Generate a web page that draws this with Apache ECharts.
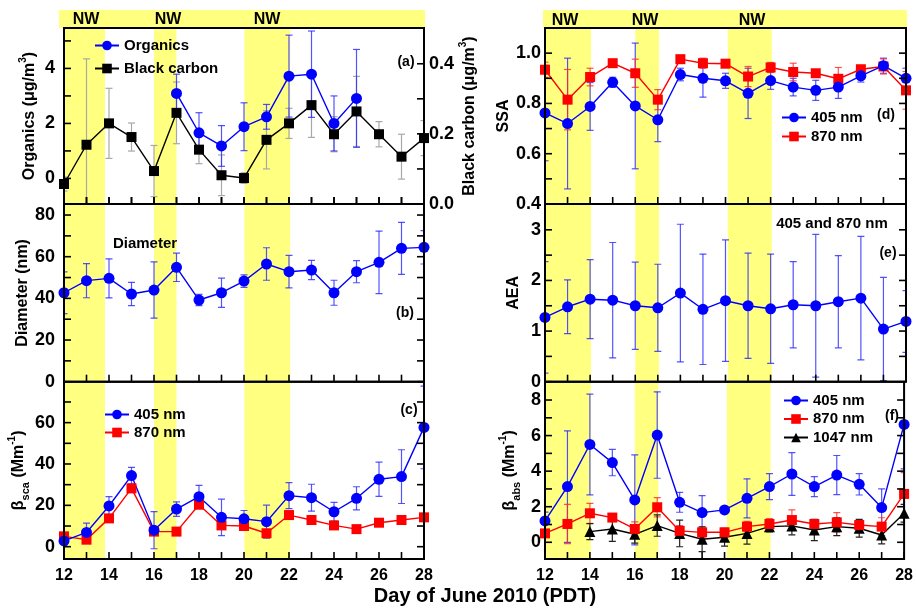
<!DOCTYPE html>
<html>
<head>
<meta charset="utf-8">
<script src="https://cdn.jsdelivr.net/npm/echarts@6/dist/echarts.min.js"></script>
<style>html,body{margin:0;padding:0;background:#fff;}#c{width:916px;height:615px;}</style>
</head>
<body>
<div id="c"></div>
<script>
// ---------- data ----------
const days = [12,13,14,15,16,17,18,19,20,21,22,23,24,25,26,27,28];
const dayTickLabels = [12,14,16,18,20,22,24,26,28];

const leftBands = [[12,13.82],[16,17],[20.02,22.05]];
const rightBands = [[12,14.04],[16,17.05],[20.1,22.05]];

// y tick positions / labels per panel
const ticksA = [0,1,2,3,4,5],            labelsA = [0,2,4];
const ticksBC = [0,0.1,0.2,0.3,0.4],     labelsBC = [0,0.2,0.4];
const ticksB = [0,10,20,30,40,50,60,70,80], labelsB = [0,20,40,60,80];
const ticksC = [0,10,20,30,40,50,60,70], labelsC = [0,20,40,60];
const ticksD = [0.4,0.5,0.6,0.7,0.8,0.9,1.0], labelsD = [0.4,0.6,0.8,1.0];
const ticksE = [0,0.5,1,1.5,2,2.5,3],    labelsE = [0,1,2,3];
const ticksF = [0,1,2,3,4,5,6,7,8],      labelsF = [0,2,4,6,8];

// (a)
const organics    = [null,null,null,null,null,3.09,1.66,1.18,1.88,2.24,3.72,3.79,2.00,2.91,null,null,null];
const organicsErr = [null,null,null,null,null,0.70,0.73,0.74,0.87,0.45,1.49,1.57,1.00,1.78,null,null,null];
const blackCarbon = [0.057,0.169,0.230,0.191,0.094,0.260,0.155,0.082,0.074,0.183,0.230,0.282,0.199,0.264,0.199,0.135,0.188];
const blackCarbonErr = [0.02,0.245,0.10,0.04,0.073,0.088,0.04,0.058,0.015,0.083,0.043,0.092,0.05,0.10,0.036,0.064,0.05];
// (b)
const diameter    = [42.7,48.5,49.6,42.1,44.0,54.9,39.2,42.7,48.3,56.5,52.8,53.6,42.7,52.8,57.3,64.0,64.5];
const diameterErr = [10,8.2,9.4,5.6,13.5,6.8,2.7,7,3,7.8,7.8,4.6,6,5.3,15,12.5,8];
// (c)
const bsca405    = [2.8,6.9,19.7,34.4,8.0,18.2,24.2,14.2,13.5,12.1,24.7,23.7,16.9,23.4,32.6,33.9,57.7];
const bsca405Err = [2,4.5,4.5,4,9,3.5,5.5,8.8,4,8,6.3,6.5,4.5,5.6,8.3,13,20];
const bsca870    = [5.0,3.4,13.7,28.2,7.3,7.3,20.3,10.3,10.0,6.5,15.3,12.9,10.3,8.5,11.6,12.9,14.2];
// (d)
const ssa405    = [0.762,0.72,0.788,0.884,0.79,0.735,0.915,0.90,0.89,0.84,0.891,0.865,0.852,0.865,0.91,0.95,0.90];
const ssa405Err = [0.19,0.26,0.095,0.02,0.25,0.087,0.025,0.075,0.03,0.10,0.035,0.035,0.04,0.045,0.025,0.03,0.04];
const ssa870    = [0.934,0.815,0.905,0.96,0.92,0.815,0.976,0.96,0.958,0.907,0.943,0.925,0.92,0.898,0.936,0.947,0.852];
const ssa870Err = [0.03,0.12,0.035,0.01,0.056,0.04,0.01,0.02,0.01,0.04,0.02,0.035,0.01,0.045,0.01,0.03,0.075];
// (e)
const aea    = [1.27,1.48,1.63,1.61,1.50,1.46,1.75,1.43,1.60,1.50,1.44,1.52,1.50,1.58,1.65,1.04,1.19];
const aeaErr = [1.10,0.53,0.78,1.14,0.86,0.86,1.36,1.09,1.20,1.04,1.08,0.85,1.41,0.91,1.22,1.02,0.61];
// (f)
const babs405    = [1.2,3.13,5.5,4.48,2.38,6.03,2.25,1.67,1.82,2.47,3.13,3.84,3.13,3.78,3.26,1.95,6.63];
const babs405Err = [0.5,3.14,2.83,0.74,2.53,2.43,0.56,0.95,0.1,1.1,0.73,1.2,0.56,1.1,0.6,1.05,2.5];
const babs870    = [0.5,1.03,1.63,1.39,0.75,1.97,0.64,0.56,0.56,0.88,1.03,1.25,1.03,1.12,0.97,0.88,2.72];
const babs870Err = [0.2,1.1,0.56,0.2,0.4,0.54,0.3,0.3,0.15,0.3,0.3,0.57,0.25,0.55,0.25,0.5,1.2];
const babs1047    = [null,null,0.6,0.75,0.45,0.94,0.5,0.17,0.28,0.5,0.88,0.92,0.69,0.88,0.79,0.41,1.63];
const babs1047Err = [null,null,0.45,0.7,0.5,0.6,0.75,0.7,0.5,0.6,0.3,0.5,0.6,0.5,0.5,0.5,0.5];

// ---------- helpers ----------
const FONT = "'Liberation Sans', Arial, Helvetica, sans-serif";
const YELLOW = '#ffff80';
const BLUE = '#0000ff', RED = '#ff0000', BLACK = '#000000';

function pairs(vals){ return days.map((d,i)=> vals[i]==null?null:[d,vals[i]]).filter(Boolean); }
function errData(vals, errs){
  return days.map((d,i)=> (vals[i]==null||errs[i]==null)?null:[d, vals[i]-errs[i], vals[i]+errs[i]]).filter(Boolean);
}
function lineSeries(name, vals, xi, yi, color, symbol, size, bands){
  const s = {
    type:'line', name, data:pairs(vals), xAxisIndex:xi, yAxisIndex:yi,
    symbol, symbolSize:size, z:3,
    lineStyle:{color, width:1.4}, itemStyle:{color, borderWidth:0},
    emphasis:{disabled:true}, animation:false
  };
  if (bands) {
    s.markArea = {silent:true, itemStyle:{color:YELLOW, opacity:1},
      data: bands.map(b=>[{xAxis:b[0]},{xAxis:b[1]}])};
  }
  return s;
}
function errSeries(vals, errs, xi, yi, color){
  return {
    type:'custom', xAxisIndex:xi, yAxisIndex:yi, data:errData(vals,errs), clip:true, z:2,
    silent:true, animation:false,
    encode:{x:0, y:[1,2]},
    renderItem:function(params, api){
      const x = api.value(0), lo = api.value(1), hi = api.value(2);
      const p1 = api.coord([x,hi]), p2 = api.coord([x,lo]);
      const w = 3.5;
      const st = {stroke:color, lineWidth:1.2};
      return {type:'group', children:[
        {type:'line', shape:{x1:p1[0],y1:p1[1],x2:p2[0],y2:p2[1]}, style:st},
        {type:'line', shape:{x1:p1[0]-w,y1:p1[1],x2:p1[0]+w,y2:p1[1]}, style:st},
        {type:'line', shape:{x1:p2[0]-w,y1:p2[1],x2:p2[0]+w,y2:p2[1]}, style:st}
      ]};
    }
  };
}
function xAx(gi, showLabels){
  return {
    type:'value', gridIndex:gi, min:12, max:28,
    axisLine:{show:false, onZero:false}, splitLine:{show:false}, axisTick:{show:false},
    axisLabel:{show:showLabels, customValues:dayTickLabels, margin:9, fontSize:16, fontWeight:'bold', color:'#000', fontFamily:FONT}
  };
}
const nameRich = {
  g:{fontSize:16, fontWeight:'bold', fontFamily:FONT, color:'#000', lineHeight:24, verticalAlign:'middle'},
  s:{fontSize:11, fontWeight:'bold', fontFamily:FONT, color:'#000', lineHeight:12, verticalAlign:'bottom'},
  p:{fontSize:10, fontWeight:'bold', fontFamily:FONT, color:'#000', lineHeight:12, verticalAlign:'top'}
};
function yAx(gi, pos, min, max, labels, decimals, name, nameGap, labelMargin){
  const a = {
    type:'value', gridIndex:gi, position:pos, min, max,
    axisLine:{show:false, onZero:false}, splitLine:{show:false}, axisTick:{show:false},
    axisLabel:{show:!!labels, customValues:labels||[], margin:labelMargin||9,
      formatter:(v)=> decimals ? v.toFixed(decimals) : String(Math.round(v)),
      fontSize:18, fontWeight:'bold', color:'#000', fontFamily:FONT}
  };
  if (name) {
    a.name = name; a.nameLocation = 'middle'; a.nameGap = nameGap; a.nameRotate = 90;
    a.nameTextStyle = {rich:nameRich, fontSize:16, fontWeight:'bold', fontFamily:FONT, color:'#000'};
  }
  return a;
}

const grids = [
  {left:64,  top:28,    width:360, height:176},
  {left:64,  top:204,   width:360, height:177.7},
  {left:64,  top:381.7, width:360, height:177.3},
  {left:545, top:28,    width:361, height:176},
  {left:545, top:204,   width:361, height:177.7},
  {left:545, top:381.7, width:361, height:177.3}
].map(g=>Object.assign({show:true, borderColor:'#000', borderWidth:2, backgroundColor:'transparent', z:10}, g));

const xAxes = [xAx(0,false), xAx(1,false), xAx(2,true), xAx(3,false), xAx(4,false), xAx(5,true)];

const yAxes = [
  yAx(0,'left', -0.93, 5.47, labelsA, 0, '{g|Organics (μg/m}{p|3}{g|)}', 22),
  yAx(0,'right', 0, 0.502, labelsBC, 1, '{g|Black carbon (μg/m}{p|3}{g|)}', 33, 5),
  yAx(1,'left', 0, 85.3, labelsB, 0, '{g|Diameter (nm)}', 29),
  yAx(2,'left', -5.95, 79.8, labelsC, 0, '{g|β}{s|sca}{g| (Mm}{p|-1}{g|)}', 31),
  yAx(3,'left', 0.4, 1.1, labelsD, 1, '{g|SSA}', 24, 4),
  yAx(4,'left', 0, 3.51, labelsE, 0, '{g|AEA}', 19, 4),
  yAx(5,'left', -0.94, 9.03, labelsF, 0, '{g|β}{s|abs}{g| (Mm}{p|-1}{g|)}', 23, 4)
];

// tick definitions: [xAxisIndex, yAxisIndex, yMin, yTicks, sides(1=left,2=right)]
const tickDefs = [
  [0, 0, -0.93, ticksA, [1]],
  [0, 1, 0, ticksBC, [2]],
  [1, 2, 0, ticksB, [1,2]],
  [2, 3, -5.95, ticksC, [1,2]],
  [3, 4, 0.4, ticksD, [1,2]],
  [4, 5, 0, ticksE, [1,2]],
  [5, 6, -0.94, ticksF, [1,2]]
];

const series = [
  // (a)
  lineSeries('Organics', organics, 0, 0, BLUE, 'circle', 11, leftBands),
  errSeries(blackCarbon, blackCarbonErr, 0, 1, '#a8a8a8'),
  errSeries(organics, organicsErr, 0, 0, 'rgba(40,40,255,0.8)'),
  lineSeries('Black carbon', blackCarbon, 0, 1, BLACK, 'rect', 10),
  // (b)
  lineSeries('Diameter', diameter, 1, 2, BLUE, 'circle', 11, leftBands),
  errSeries(diameter, diameterErr, 1, 2, 'rgba(40,40,255,0.8)'),
  // (c)
  errSeries(bsca405, bsca405Err, 2, 3, 'rgba(40,40,255,0.8)'),
  lineSeries('870 nm', bsca870, 2, 3, RED, 'rect', 10, leftBands),
  lineSeries('405 nm', bsca405, 2, 3, BLUE, 'circle', 11),
  // (d)
  errSeries(ssa405, ssa405Err, 3, 4, 'rgba(40,40,255,0.8)'),
  errSeries(ssa870, ssa870Err, 3, 4, 'rgba(255,40,40,0.8)'),
  lineSeries('870 nm', ssa870, 3, 4, RED, 'rect', 10, rightBands),
  lineSeries('405 nm', ssa405, 3, 4, BLUE, 'circle', 11),
  // (e)
  errSeries(aea, aeaErr, 4, 5, 'rgba(40,40,255,0.8)'),
  lineSeries('AEA', aea, 4, 5, BLUE, 'circle', 11, rightBands),
  // (f)
  errSeries(babs405, babs405Err, 5, 6, 'rgba(40,40,255,0.8)'),
  errSeries(babs870, babs870Err, 5, 6, 'rgba(255,40,40,0.8)'),
  errSeries(babs1047, babs1047Err, 5, 6, '#222'),
  lineSeries('1047 nm', babs1047, 5, 6, BLACK, 'triangle', 11, rightBands),
  lineSeries('870 nm', babs870, 5, 6, RED, 'rect', 10),
  lineSeries('405 nm', babs405, 5, 6, BLUE, 'circle', 11)
];

const legendText = {fontSize:15, fontWeight:'bold', fontFamily:FONT, color:'#000'};
function legend(data, left, top, gap){
  return {data, left, top, orient:'vertical', itemGap:gap, itemWidth:24, itemHeight:12,
    textStyle:legendText, selectedMode:false, padding:0};
}
const legends = [
  legend(['Organics','Black carbon'], 94, 38, 8),
  legend(['405 nm','870 nm'], 104, 407, 3),
  legend(['405 nm','870 nm'], 781, 110, 4),
  legend(['405 nm','870 nm','1047 nm'], 783, 393, 3.5)
];

function txt(text, x, y, size, align){
  return {type:'text', x, y, silent:true, z:20,
    style:{text, fill:'#000', font:'bold '+size+'px '+FONT, textAlign:align||'center', textVerticalAlign:'middle'}};
}
const graphic = [
  {type:'rect', shape:{x:59, y:10, width:366, height:18}, style:{fill:YELLOW}, silent:true, z:1},
  {type:'rect', shape:{x:543, y:10, width:364, height:18}, style:{fill:YELLOW}, silent:true, z:1},
  txt('NW', 86, 20, 16), txt('NW', 168, 20, 16), txt('NW', 267, 20, 16),
  txt('NW', 565, 21, 16), txt('NW', 645, 21, 16), txt('NW', 752, 21, 16),
  txt('(a)', 406, 62, 14), txt('(b)', 405, 313, 14), txt('(c)', 409, 410, 14),
  txt('(d)', 886, 115, 14), txt('(e)', 888, 253, 14), txt('(f)', 892, 416, 14),
  txt('Diameter', 145, 244, 15), txt('405 and 870 nm', 832, 224, 15),
  txt('Day of June 2010 (PDT)', 485, 596, 20)
];

const chart = echarts.init(document.getElementById('c'), null, {renderer:'canvas'});
chart.setOption({
  animation:false,
  backgroundColor:'#fff',
  grid:grids, xAxis:xAxes, yAxis:yAxes, series, legend:legends, graphic
});

// inward tick marks, positioned through the axes' own scales (convertToPixel)
const L = 7;
const tickGraphics = [];
function tickLine(x1, y1, x2, y2){
  tickGraphics.push({type:'line', silent:true, z:30,
    shape:{x1, y1, x2, y2}, style:{stroke:'#000', lineWidth:1.6}});
}
tickDefs.forEach(([xi, yi, yMin, yTicks, sides])=>{
  const finder = {xAxisIndex:xi, yAxisIndex:yi};
  days.forEach(d=>{
    const p = chart.convertToPixel(finder, [d, yMin]);
    if (p) tickLine(p[0], p[1], p[0], p[1]-L);
  });
  yTicks.forEach(v=>{
    if (sides.indexOf(1)>=0) { const p = chart.convertToPixel(finder, [12, v]); if (p) tickLine(p[0], p[1], p[0]+L, p[1]); }
    if (sides.indexOf(2)>=0) { const p = chart.convertToPixel(finder, [28, v]); if (p) tickLine(p[0], p[1], p[0]-L, p[1]); }
  });
});
chart.setOption({graphic: graphic.concat(tickGraphics)});
</script>
</body>
</html>
